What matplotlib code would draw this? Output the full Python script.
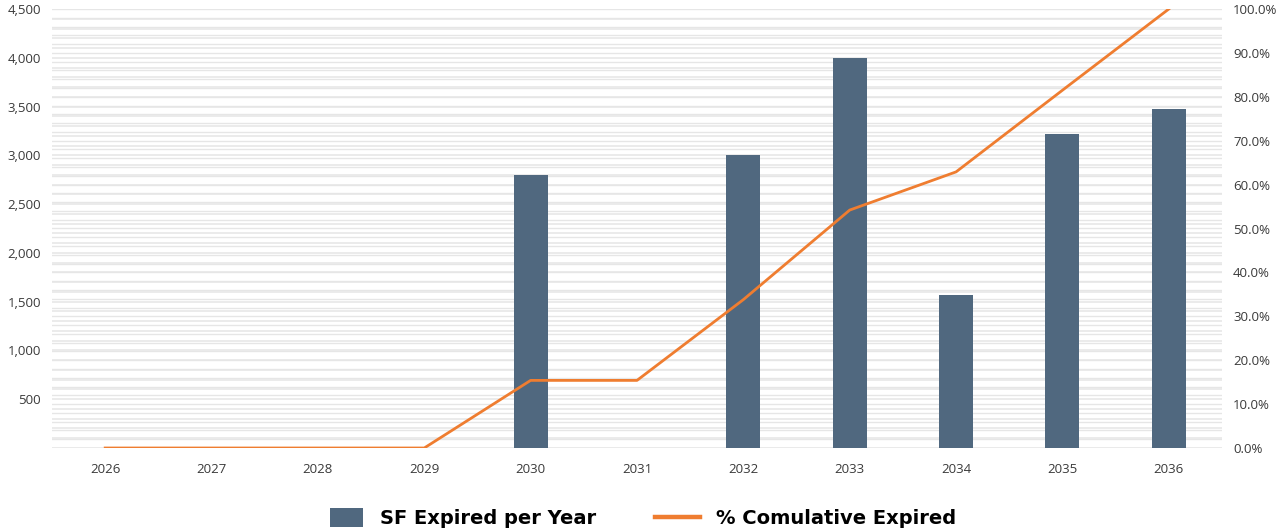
import matplotlib.pyplot as plt
from matplotlib.ticker import FuncFormatter, MultipleLocator
from matplotlib.patches import Patch, Rectangle
from matplotlib.lines import Line2D
from matplotlib.legend_handler import HandlerPatch

years = ['2026', '2027', '2028', '2029', '2030', '2031', '2032', '2033', '2034', '2035', '2036']
sf_expired = [0, 0, 0, 0, 2800, 0, 3000, 4000, 1570, 3220, 3470]
pct_cumulative = [0, 0, 0, 0, 15.4, 15.4, 33.8, 54.2, 62.9, 81.5, 100.0]

bar_color = '#50687F'
line_color = '#EF7D30'
grid_color = '#E6E6E6'
text_color = '#3A3A3A'

plt.rcParams['font.family'] = ['Open Sans', 'DejaVu Sans']

fig = plt.figure(figsize=(12.78, 5.32), dpi=100)
ax = fig.add_axes([52 / 1278, 1 - 448 / 532, 1170 / 1278, 439 / 532])
ax2 = ax.twinx()

x = range(len(years))

ax.set_ylim(0, 4500)
ax2.set_ylim(0, 100)
ax.yaxis.set_major_locator(MultipleLocator(500))
ax.yaxis.set_minor_locator(MultipleLocator(100))
ax2.yaxis.set_major_locator(MultipleLocator(10))

# grid of the left axis (every 100) plus the right axis (every 2%), both behind the bars
ax.grid(True, which='both', axis='y', color=grid_color, linewidth=1.1, zorder=0)
scale = 4500 / 100
for p in range(0, 101, 2):
    ax.axhline(p * scale, color=grid_color, linewidth=1.0, zorder=0)
ax.set_axisbelow(True)

ax.bar(x, sf_expired, width=0.32, color=bar_color, zorder=3)
ax2.plot(x, pct_cumulative, color=line_color, linewidth=2.0, zorder=4)

ax.set_zorder(1)
ax2.set_zorder(2)
ax2.patch.set_visible(False)

ax.set_xlim(-0.5, len(years) - 0.5)
ax.set_xticks(list(x))
ax.set_xticklabels(years)

ax.yaxis.set_major_formatter(FuncFormatter(lambda v, p: '' if v == 0 else f'{int(v):,}'))
ax2.yaxis.set_major_formatter(FuncFormatter(lambda v, p: f'{v:.1f}%'))

for a in (ax, ax2):
    for s in a.spines.values():
        s.set_visible(False)
    a.tick_params(which='both', length=0, labelsize=9.5, colors=text_color)
ax.tick_params(axis='x', pad=11)
ax.tick_params(axis='y', pad=8)
ax2.tick_params(axis='y', pad=8)


def square_handle(legend, orig_handle, xdescent, ydescent, width, height, fontsize):
    w, h = 23.8, 13.7
    return Rectangle((width - xdescent - w, -ydescent + (height - h) / 2), w, h)


handles = [Patch(facecolor=bar_color, label='SF Expired per Year'),
           Line2D([0], [0], color=line_color, linewidth=3.2, label='% Comulative Expired')]
fig.legend(handles=handles, loc='center', bbox_to_anchor=(0.4988, 0.025), ncol=2,
           frameon=False, handlelength=2.31, handleheight=1.0,
           columnspacing=3.0, handletextpad=0.87,
           handler_map={Patch: HandlerPatch(patch_func=square_handle)},
           prop={'family': 'DejaVu Sans', 'weight': 'bold', 'size': 14})

fig.savefig('out.png', dpi=100)
